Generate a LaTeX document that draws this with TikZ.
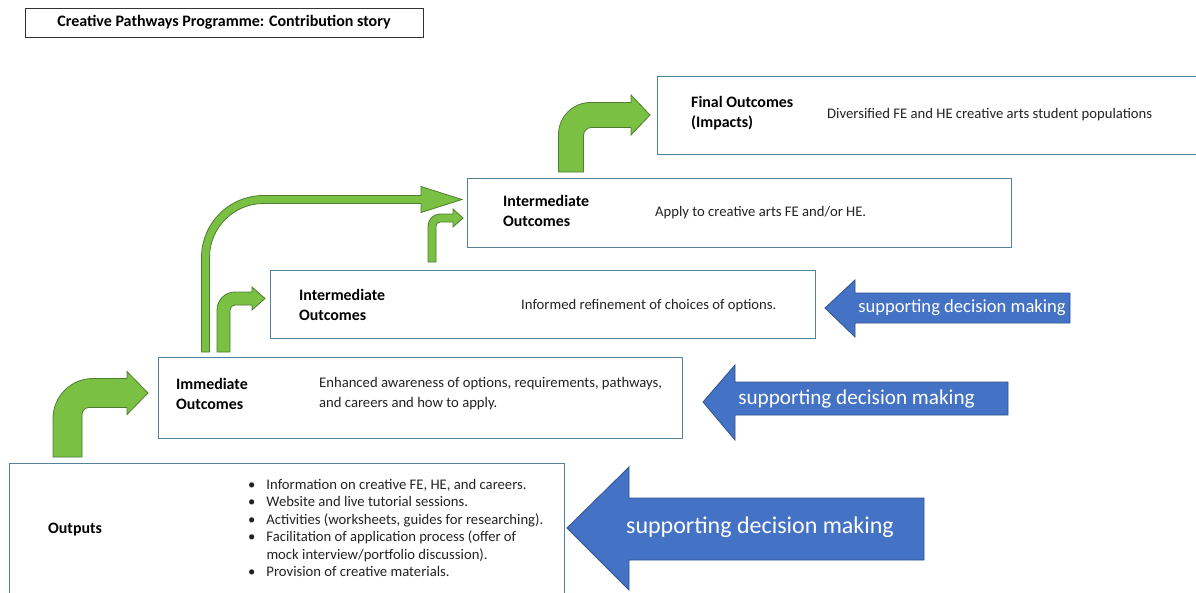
\documentclass[tikz,border=0pt]{standalone}
\usepackage{fontspec}
\setmainfont{Carlito}
\definecolor{boxline}{RGB}{84,130,157}
\definecolor{leafgreen}{RGB}{122,192,67}
\definecolor{leafedge}{RGB}{78,124,50}
\definecolor{stepblue}{RGB}{68,114,196}
\definecolor{stepedge}{RGB}{47,82,143}
\definecolor{inktext}{RGB}{35,35,35}
\usetikzlibrary{calc, positioning}

% bent green arrow: foot, tip, shaft width, outer radius, inner radius, head length, head half width
\newcommand{\bentarrow}[7]{%
  \filldraw[greenarrow] let \p1=(#1), \p2=(#2) in
    ({\x1-#3/2},\y1) -- ({\x1-#3/2},{\y2+#3/2-#4})
    arc[start angle=180, end angle=90, radius=#4pt]
    -- ({\x2-#6},{\y2+#3/2}) -- ({\x2-#6},{\y2+#7}) -- (\x2,\y2)
    -- ({\x2-#6},{\y2-#7}) -- ({\x2-#6},{\y2-#3/2})
    -- ({\x1+#3/2+#5},{\y2-#3/2})
    arc[start angle=90, end angle=180, radius=#5pt]
    -- ({\x1+#3/2},\y1) -- cycle;}

\begin{document}
\begin{tikzpicture}[x=1pt, y=-1pt,
  outcome/.style={draw=boxline, line width=1pt, fill=white, inner sep=0pt, anchor=north west},
  lbl/.style={font=\bfseries\fontsize{15.9}{20}\selectfont, text=black, align=left, inner sep=0pt, anchor=west},
  txt/.style={font=\fontsize{14.67}{20}\selectfont, text=inktext, align=left, inner sep=0pt, anchor=west},
  greenarrow/.style={fill=leafgreen, draw=leafedge, line width=0.8pt},
  decide/.style={fill=stepblue, draw=stepedge, line width=0.8pt},
  decidetext/.style={text=white, inner sep=0pt}]
  \useasboundingbox (0,0) rectangle (1196,592);

  % Title
  \node[draw=black!80, line width=0.8pt, minimum width=398, minimum height=29, inner sep=0pt,
        font=\bfseries\fontsize{16}{18}\selectfont] (title) at (224,22.5)
        {Creative Pathways Programme: Contribution story};

  % Boxes
  \node[outcome, minimum width=555, minimum height=140] (outp) at (9,463) {};
  \node[outcome, minimum width=524, minimum height=81] (imm) at (158,357) {};
  \node[outcome, minimum width=545, minimum height=68] (inta) at (270,270) {};
  \node[outcome, minimum width=544, minimum height=69] (intb) at (467,178) {};
  \node[outcome, minimum width=545, minimum height=78] (fin) at (657,76) {};

  % Outputs
  \node[lbl] (outplbl) at (48,529.5) {Outputs};
  \node[txt, font=\fontsize{14.67}{17.4}\selectfont] (outptxt) at (248,529.5) {%
    \begin{tabular}{@{}l@{\hspace{11pt}}l@{}}
      \textbullet & Information on creative FE, HE, and careers.\\
      \textbullet & Website and live tutorial sessions.\\
      \textbullet & Activities (worksheets, guides for researching).\\
      \textbullet & Facilitation of application process (offer of\\
                  & mock interview/portfolio discussion).\\
      \textbullet & Provision of creative materials.
    \end{tabular}};

  % Immediate outcomes
  \node[lbl] (immlbl) at (176,394) {Immediate\\Outcomes};
  \node[txt] (immtxt) at (319,394) {Enhanced awareness of options, requirements, pathways,\\and careers and how to apply.};

  % Intermediate outcomes
  \node[lbl] (intalbl) at (299,304.5) {Intermediate\\Outcomes};
  \node[txt] (intatxt) at (521,306) {Informed refinement of choices of options.};
  \node[lbl] (intblbl) at (503,210.5) {Intermediate\\Outcomes};
  \node[txt] (intbtxt) at (655,213) {Apply to creative arts FE and/or HE.};

  % Final outcomes
  \node[lbl] (finlbl) at (691,113) {Final Outcomes\\(Impacts)};
  \node[txt] (fintxt) at (827,115) {Diversified FE and HE creative arts student populations};

  % Green arrows
  \coordinate (a1foot) at (67.5,457);  \coordinate (a1tip) at (148,393);
  \coordinate (a2foot) at (205.5,352); \coordinate (a2tip) at (462,199.5);
  \coordinate (a3foot) at (223.5,352); \coordinate (a3tip) at (265,298.5);
  \coordinate (a4foot) at (432,262);   \coordinate (a4tip) at (463,218);
  \coordinate (a5foot) at (571,172);   \coordinate (a5tip) at (650,115);
  \bentarrow{a1foot}{a1tip}{29}{40}{7}{21}{21.5}
  \bentarrow{a2foot}{a2tip}{8}{62}{54}{41}{13}
  \bentarrow{a3foot}{a3tip}{13}{18}{5}{13}{11.5}
  \bentarrow{a4foot}{a4tip}{8}{12}{4}{10}{9}
  \bentarrow{a5foot}{a5tip}{25}{32}{8}{19}{20}

  % Blue arrows
  \filldraw[decide] (567,528) -- (629,467) -- (629,498) -- (924,498) -- (924,560) -- (629,560) -- (629,590) -- cycle;
  \node[decidetext, font=\fontsize{24}{28}\selectfont] (decA) at (760,527) {supporting decision making};
  \filldraw[decide] (703,402) -- (735,365) -- (735,382) -- (1008,382) -- (1008,415) -- (735,415) -- (735,440) -- cycle;
  \node[decidetext, font=\fontsize{21.2}{25}\selectfont] (decB) at (856.5,399) {supporting decision making};
  \filldraw[decide] (825,308) -- (855,280) -- (855,293) -- (1070,293) -- (1070,323) -- (855,323) -- (855,337) -- cycle;
  \node[decidetext, font=\fontsize{18.6}{22}\selectfont] (decC) at (962,308) {supporting decision making};
\end{tikzpicture}
\end{document}
